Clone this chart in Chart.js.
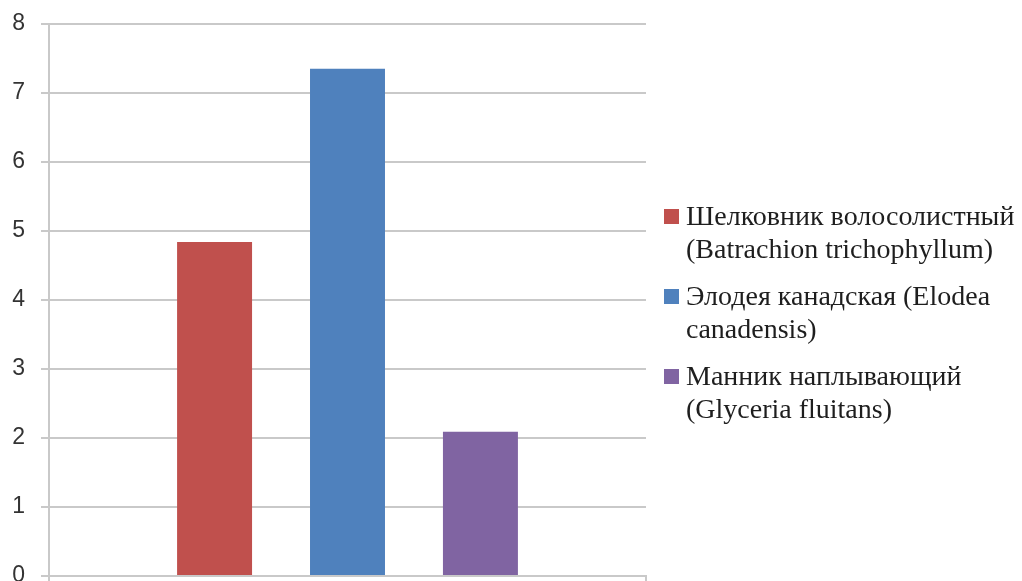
<!DOCTYPE html>
<html>
<head>
<meta charset="utf-8">
<script src="https://cdn.jsdelivr.net/npm/chart.js@4/dist/chart.umd.min.js"></script>
<style>
  html, body { margin: 0; padding: 0; background: #fff; }
  #wrap { width: 1022px; height: 581px; }
</style>
</head>
<body>
<div id="wrap"><canvas id="chart" width="1022" height="581"></canvas></div>
<script>
// ─── Data ────────────────────────────────────────────────────────────────
const categories = [''];
const seriesNames = [
  ['Шелковник волосолистный', '(Batrachion trichophyllum)'],
  ['Элодея канадская (Elodea', 'canadensis)'],
  ['Манник наплывающий', '(Glyceria fluitans)'],
];
const seriesValues = [4.84, 7.35, 2.09];
const seriesColors = ['#C0504D', '#4F81BD', '#8064A2'];
const yTicks = [0, 1, 2, 3, 4, 5, 6, 7, 8];

const gridColor = '#c9c9c9';
const legendFont = '28px "Liberation Serif", "Times New Roman", serif';

const datasets = seriesNames.map((name, i) => ({
  label: name,
  data: [seriesValues[i]],
  backgroundColor: seriesColors[i],
  borderWidth: 0,
  categoryPercentage: 0.668,
  barPercentage: 0.564,
}));

// ─── Legend on the right (multi-line labels, Excel-like spacing) ─────────
const sideLegend = {
  id: 'sideLegend',
  afterDraw(chart) {
    const { ctx, chartArea } = chart;
    const boxX = chartArea.right + 18;
    const textX = boxX + 22;
    const lineH = 33;
    const itemGap = 80;
    const midY = (chartArea.top + chartArea.bottom) / 2 + 13;
    let y = midY - itemGap - lineH / 2;

    ctx.save();
    ctx.font = legendFont;
    ctx.textBaseline = 'middle';
    ctx.textAlign = 'left';
    chart.data.datasets.forEach((ds) => {
      ctx.fillStyle = ds.backgroundColor;
      ctx.fillRect(boxX, y - 7.5, 15, 15);
      ctx.fillStyle = '#1e1e1e';
      ds.label.forEach((line, j) => ctx.fillText(line, textX, y + j * lineH + 1));
      y += itemGap;
    });
    ctx.restore();
  },
};

new Chart(document.getElementById('chart'), {
  type: 'bar',
  data: { labels: categories, datasets },
  plugins: [sideLegend],
  options: {
    responsive: false,
    devicePixelRatio: 1,
    animation: false,
    layout: { padding: { left: 0, top: 24, right: 376, bottom: 0 } },
    plugins: {
      tooltip: { enabled: false },
      legend: { display: false },
    },
    scales: {
      x: {
        offset: true,
        grid: { display: true, drawOnChartArea: false, drawTicks: true, tickLength: 5, color: gridColor, lineWidth: 2 },
        border: { display: true, color: gridColor, width: 2 },
        ticks: { display: false },
      },
      y: {
        min: yTicks[0],
        max: yTicks[yTicks.length - 1],
        afterBuildTicks: (axis) => { axis.ticks = yTicks.map(v => ({ value: v })); },
        afterFit: (axis) => {
          axis.width = 49;
          axis.paddingTop = 0;
          axis.paddingBottom = 0;
        },
        grid: { color: gridColor, lineWidth: 2, tickLength: 8 },
        border: { display: true, color: gridColor, width: 2 },
        ticks: {
          padding: 16,
          color: '#333',
          font: { family: '"Liberation Sans", Arial, sans-serif', size: 23 },
        },
      },
    },
  },
});
</script>
</body>
</html>
